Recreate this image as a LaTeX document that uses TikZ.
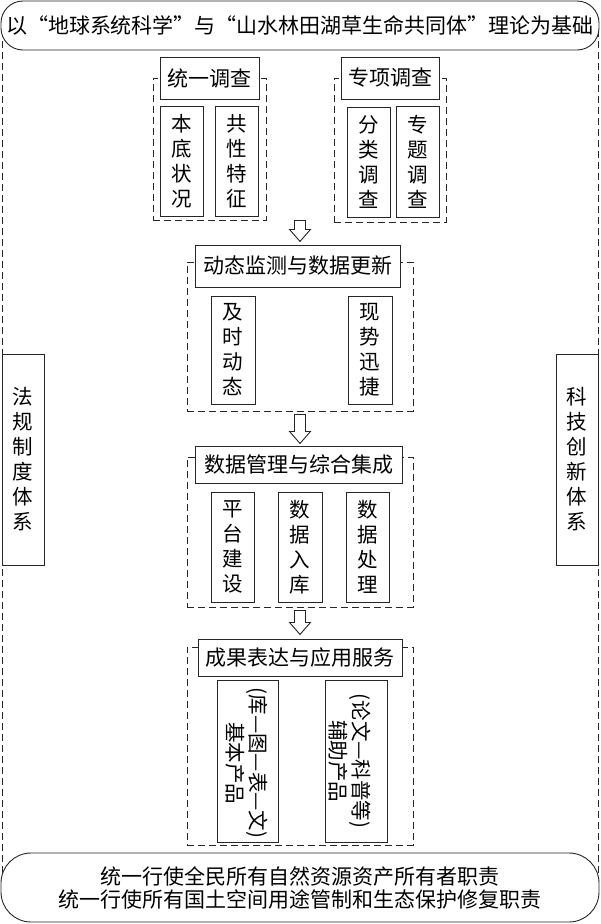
\documentclass[tikz,border=0pt]{standalone}
\usepackage{fontspec}
\setmainfont{Noto Sans CJK SC}
\usetikzlibrary{calc}
\tikzset{
  ln/.style={line width=0.9pt, draw=black!85},
  box/.style={ln, fill=white, inner sep=0pt, align=center},
  banner/.style={box, font=\fontsize{21}{23}\selectfont},
  grp/.style={ln, dash pattern=on 7pt off 4pt, inner sep=0pt},
  hdr/.style={box, font=\fontsize{21}{24}\selectfont},
  vbox/.style={box, font=\fontsize{20.5}{25}\selectfont},
  rlabel/.style={inner sep=0pt, align=center, rotate=-90, font=\fontsize{20.5}{23}\selectfont},
  barrow/.style={ln, fill=white, line join=miter},
}
\newcommand{\myopenq}{\makebox[1em][r]{“}}
\newcommand{\myclosq}{\makebox[1em][l]{”}}
\newcommand{\hollowdown}[2]{%
  \draw[barrow] (#1) ++(-5.5,0) -- ++(11,0) -- ++(0,#2) -- ++(5,0)
    -- ++(-10.5,12) -- ++(-10.5,-12) -- ++(5,0) -- cycle;}
\begin{document}
\begin{tikzpicture}[x=1pt,y=-1pt]
\useasboundingbox (0,0) rectangle (600,924);
% outer frame lines (drawn first, covered by banners)
\coordinate (fl1) at (2,30);
\coordinate (fl2) at (2,895);
\coordinate (fr1) at (598,30);
\coordinate (fr2) at (598,895);
\draw[grp] (fl1) -- (fl2);
\draw[grp] (fr1) -- (fr2);
% side boxes
\node[vbox, minimum width=42pt, minimum height=211pt] (law) at (23,459.5) {法\\规\\制\\度\\体\\系};
\node[vbox, minimum width=42pt, minimum height=211pt] (tech) at (577,459.5) {科\\技\\创\\新\\体\\系};
% banners
\node[banner, rounded corners=22pt, minimum width=598pt, minimum height=49pt] (top) at (300,25.5)
  {以\myopenq 地球系统科学\myclosq 与\myopenq 山水林田湖草生命共同体\myclosq 理论为基础};
\node[banner, rounded corners=30pt, minimum width=598pt, minimum height=69pt] (bot) at (300,887.5)
  {统一行使全民所有自然资源资产所有者职责\\统一行使所有国土空间用途管制和生态保护修复职责};
% group 1
\node[grp, minimum width=113pt, minimum height=142pt] (g1) at (209.5,149) {};
\node[hdr, minimum width=99pt, minimum height=42pt] (h1) at (209.5,78) {统一调查};
\node[vbox, minimum width=43pt, minimum height=110pt] (b11) at (181.5,161) {本\\底\\状\\况};
\node[vbox, minimum width=43pt, minimum height=110pt] (b12) at (236.5,161) {共\\性\\特\\征};
% group 2
\node[grp, minimum width=112pt, minimum height=144pt] (g2) at (390,150) {};
\node[hdr, minimum width=98pt, minimum height=42pt] (h2) at (390,78) {专项调查};
\node[vbox, minimum width=43pt, minimum height=110pt] (b21) at (368.5,162) {分\\类\\调\\查};
\node[vbox, minimum width=43pt, minimum height=111pt] (b22) at (417.5,161.5) {专\\题\\调\\查};
% group 3
\node[grp, minimum width=226pt, minimum height=149pt] (g3) at (300,336.5) {};
\node[hdr, minimum width=205pt, minimum height=42pt] (h3) at (297.5,266) {动态监测与数据更新};
\node[vbox, minimum width=44pt, minimum height=108pt] (b31) at (233,350) {及\\时\\动\\态};
\node[vbox, minimum width=44pt, minimum height=108pt] (b32) at (370,350) {现\\势\\迅\\捷};
% group 4
\node[grp, minimum width=226pt, minimum height=150pt] (g4) at (300,532) {};
\node[hdr, minimum width=207pt, minimum height=37pt] (h4) at (298.5,464.5) {数据管理与综合集成};
\node[vbox, minimum width=43pt, minimum height=110pt] (b41) at (232.5,547) {平\\台\\建\\设};
\node[vbox, minimum width=44pt, minimum height=110pt] (b42) at (300,547) {数\\据\\入\\库};
\node[vbox, minimum width=43pt, minimum height=110pt] (b43) at (367.5,547) {数\\据\\处\\理};
% group 5
\node[grp, minimum width=226pt, minimum height=198pt] (g5) at (300,746) {};
\node[hdr, minimum width=204pt, minimum height=37pt] (h5) at (300,657.5) {成果表达与应用服务};
\node[box, minimum width=61pt, minimum height=162pt] (b51) at (247.5,761) {};
\node[box, minimum width=62pt, minimum height=162pt] (b52) at (356,761) {};
\node[rlabel] (t51) at ($(b51.center)+(-1,2)$) {(库—图—表—文)\\基本产品};
\node[rlabel] (t52) at ($(b52.center)+(-6,0)$) {(论文—科普等)\\辅助产品};
% hollow arrows between stages
\coordinate (ar1) at (g3.north |- g1.south);
\coordinate (ar2) at ($(g3.south)+(0,3)$);
\coordinate (ar3) at ($(g4.south)+(0,3)$);
\hollowdown{ar1}{9}
\hollowdown{ar2}{17}
\hollowdown{ar3}{12}
\end{tikzpicture}
\end{document}
